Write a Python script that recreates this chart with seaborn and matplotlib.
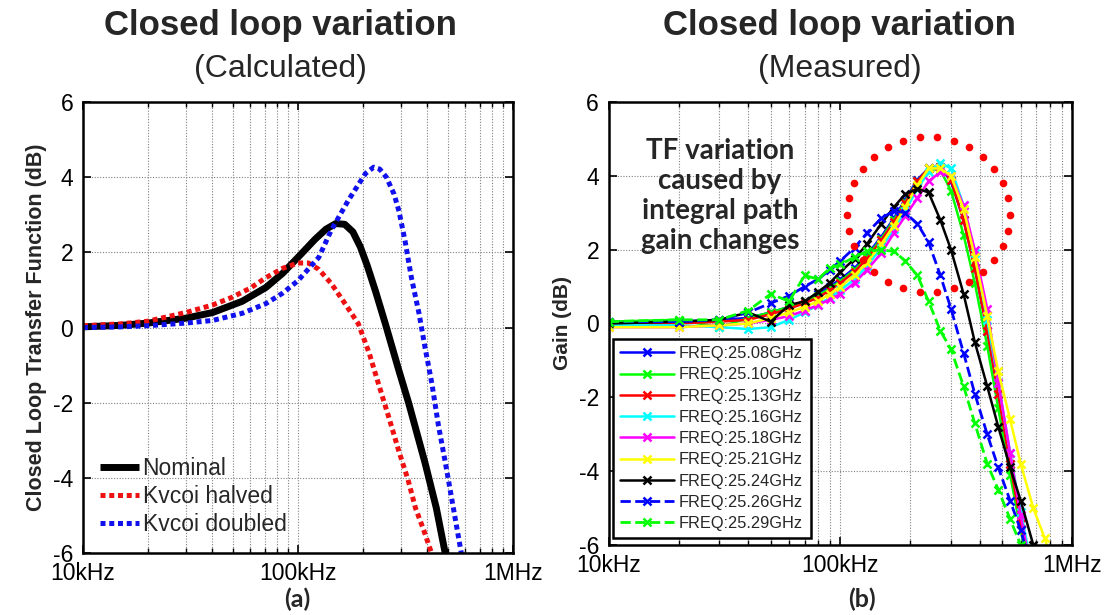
import matplotlib
matplotlib.use("Agg")
import matplotlib.pyplot as plt
from matplotlib import font_manager
from matplotlib.ticker import LogLocator, NullFormatter
import seaborn as sns
import numpy as np

# ---------------- data ----------------
# (a) calculated curves (kHz, dB)
nominal_khz = [10, 15, 20, 30, 40, 55, 71, 85, 100, 120, 135, 150, 165, 180, 195, 210, 230, 255, 295, 327, 390, 440, 484, 530]
nominal_db = [0.02, 0.06, 0.12, 0.25, 0.4, 0.7, 1.07, 1.45, 1.87, 2.35, 2.62, 2.77, 2.75, 2.55, 2.15, 1.65, 0.95, 0.1, -1.15, -2.0, -3.6, -4.8, -6.0, -7.2]

halved_khz = [10, 15, 20, 30, 40, 49, 60, 71, 85, 100, 112, 125, 143, 165, 191, 215, 237, 265, 295, 325, 352, 385, 418, 460]
halved_db = [0.05, 0.1, 0.17, 0.4, 0.6, 0.8, 1.05, 1.33, 1.58, 1.72, 1.72, 1.55, 1.17, 0.65, 0.1, -0.7, -1.5, -2.4, -3.3, -4.05, -4.8, -5.4, -6.0, -6.8]

doubled_khz = [10, 15, 20, 30, 40, 55, 71, 85, 100, 125, 143, 172, 206, 225, 240, 258, 280, 295, 315, 337, 365, 390, 420, 450, 485, 517, 575, 620]
doubled_db = [0.0, 0.02, 0.05, 0.12, 0.19, 0.38, 0.64, 0.92, 1.25, 1.87, 2.6, 3.4, 4.1, 4.27, 4.22, 4.0, 3.55, 3.1, 2.3, 1.33, 0.4, -0.53, -1.5, -2.6, -3.6, -4.5, -6.0, -7.0]

# (b) measured curves (kHz, dB)
meas_khz = [10, 20, 30, 40, 50, 60, 70, 80, 90, 100, 115, 130, 150, 170, 190, 215, 240, 270, 300, 340, 380, 430, 480, 540, 600, 680, 760, 850]
g2508 = [0.05, 0.05, 0.1, 0.15, 0.3, 0.45, 0.6, 0.8, 1.0, 1.2, 1.5, 1.85, 2.35, 2.85, 3.35, 3.9, 4.2, 4.25, 3.85, 2.8, 1.5, -0.2, -1.9, -3.8, -5.4, -7.2, -8.5, -9.8]
g2510 = [0.05, 0.1, -0.1, 0.15, 0.3, 0.45, 0.6, 0.75, 0.95, 1.15, 1.45, 1.8, 2.3, 2.8, 3.3, 3.85, 4.2, 4.15, 3.6, 2.4, 1.1, -0.6, -2.3, -4.1, -5.6, -7.3, -8.6, -9.9]
g2513 = [0.0, 0.0, 0.05, 0.1, 0.25, 0.4, 0.55, 0.7, 0.9, 1.1, 1.4, 1.75, 2.25, 2.75, 3.25, 3.85, 4.2, 4.25, 3.9, 2.8, 1.5, -0.2, -1.9, -3.8, -5.4, -7.1, -8.4, -9.7]
g2516 = [-0.05, -0.05, -0.1, -0.15, -0.1, 0.1, 0.3, 0.5, 0.7, 0.9, 1.2, 1.55, 2.05, 2.55, 3.05, 3.65, 4.1, 4.35, 4.2, 3.2, 1.9, 0.1, -1.6, -3.5, -5.1, -6.8, -8.2, -9.5]
g2518 = [-0.1, -0.1, -0.05, 0.0, 0.1, 0.2, 0.35, 0.5, 0.65, 0.8, 1.1, 1.45, 1.9, 2.45, 2.9, 3.4, 3.85, 4.1, 4.0, 3.2, 2.0, 0.4, -1.6, -3.5, -5.2, -7.0, -8.4, -9.7]
g2521 = [-0.1, -0.1, -0.05, 0.0, 0.15, 0.3, 0.45, 0.6, 0.8, 1.0, 1.3, 1.65, 2.15, 2.65, 3.15, 3.75, 4.2, 4.2, 4.0, 3.1, 1.8, 0.2, -1.3, -2.6, -3.8, -5.0, -5.8, -6.8]
g2524 = [0.0, 0.05, 0.1, 0.3, 0.05, 0.5, 0.6, 0.85, 1.1, 1.4, 1.75, 2.15, 2.7, 3.15, 3.5, 3.65, 3.55, 2.8, 2.0, 0.8, -0.5, -1.7, -2.8, -3.9, -4.8, -6.0, -7.0, -8.2]
g2526 = [0.05, 0.05, 0.1, 0.3, 0.55, 0.75, 1.0, 1.2, 1.45, 1.7, 2.05, 2.45, 2.85, 3.05, 3.0, 2.7, 2.2, 1.3, 0.4, -0.8, -1.9, -3.0, -3.9, -4.8, -5.6, -6.8, -7.9, -9.0]
g2529 = [0.05, 0.1, 0.1, 0.35, 0.8, 0.6, 1.3, 1.2, 1.5, 1.6, 1.8, 1.95, 2.0, 1.95, 1.7, 1.3, 0.6, -0.2, -0.7, -1.7, -2.7, -3.8, -4.5, -5.3, -6.0, -7.0, -8.0, -9.0]

meas_labels = ["FREQ:25.08GHz", "FREQ:25.10GHz", "FREQ:25.13GHz", "FREQ:25.16GHz",
               "FREQ:25.18GHz", "FREQ:25.21GHz", "FREQ:25.24GHz", "FREQ:25.26GHz",
               "FREQ:25.29GHz"]
calc_labels = ["Nominal", "Kvcoi halved", "Kvcoi doubled"]
xtick_vals = [1e4, 1e5, 1e6]
xtick_labels = ["10kHz", "100kHz", "1MHz"]
ytick_vals = [-6, -4, -2, 0, 2, 4, 6]

# ---------------- style ----------------
sns.set_theme(style="white")
names = {f.name for f in font_manager.fontManager.ttflist}
ARIAL = "Liberation Sans" if "Liberation Sans" in names else "DejaVu Sans"
NARROW = "Liberation Sans Narrow" if "Liberation Sans Narrow" in names else ARIAL
CALIBRI = "Lato" if "Lato" in names else ARIAL
plt.rcParams["font.family"] = [ARIAL, "DejaVu Sans"]

fig = plt.figure(figsize=(11.11, 6.15), dpi=100)
ax1 = fig.add_axes([0.0747, 0.1008, 0.387, 0.733])
ax2 = fig.add_axes([0.548, 0.1138, 0.417, 0.7204])

def hz(lst):
    return [v * 1e3 for v in lst]

# (a)
sns.lineplot(x=hz(nominal_khz), y=nominal_db, ax=ax1, color="black", lw=5.0,
             label=calc_labels[0], sort=False)
sns.lineplot(x=hz(halved_khz), y=halved_db, ax=ax1, color="#ee1111", lw=3.6,
             label=calc_labels[1], sort=False)
sns.lineplot(x=hz(doubled_khz), y=doubled_db, ax=ax1, color="#1111ee", lw=3.6,
             label=calc_labels[2], sort=False)
ax1.lines[1].set_linestyle((0, (1.0, 0.75)))
ax1.lines[2].set_linestyle((0, (1.0, 0.75)))
for ln in ax1.lines:
    ln.set_solid_capstyle("butt")
    ln.set_dash_capstyle("butt")
    ln.set_solid_joinstyle("round")

# (b)
series = [g2508, g2510, g2513, g2516, g2518, g2521, g2524, g2526, g2529]
colors = ["#0000ff", "#00ff00", "#ff0000", "#00ffff", "#ff00ff", "#ffff00", "#000000", "#0000ff", "#00ff00"]
styles = ["-", "-", "-", "-", "-", "-", "-", "--", "--"]
for vals, col, ls, lab in zip(series, colors, styles, meas_labels):
    sns.lineplot(x=hz(meas_khz), y=vals, ax=ax2, color=col, lw=1.8 if ls == "-" else 2.0,
                 marker="x", markersize=6, markeredgewidth=1.8, markeredgecolor=col,
                 label=lab, sort=False)
for ln, ls in zip(ax2.lines, styles):
    ln.set_linestyle(ls)

for ax in (ax1, ax2):
    ax.set_xscale("log")
    ax.set_xlim(1e4, 1e6)
    ax.set_ylim(-6, 6)
    ax.set_xticks(xtick_vals)
    ax.set_xticklabels(xtick_labels)
    ax.xaxis.set_minor_locator(LogLocator(base=10, subs=np.arange(2, 10), numticks=20))
    ax.xaxis.set_minor_formatter(NullFormatter())
    ax.set_yticks(ytick_vals)
    ax.set_yticklabels([str(v) for v in ytick_vals])
    ax.grid(True, which="major", axis="both", ls=(0, (1, 1.5)), color="#808080", lw=0.8)
    ax.grid(True, which="minor", axis="x", ls=(0, (1, 1.5)), color="#808080", lw=0.8)
    ax.tick_params(which="both", direction="in", top=True, right=True, bottom=True, left=True,
                   colors="black")
    ax.tick_params(which="major", length=6, width=1.2, labelsize=16.5, pad=7)
    ax.tick_params(axis="x", which="major", pad=6.5)
    ax.tick_params(which="minor", length=3.5, width=1.0)
    for lab in ax.get_xticklabels() + ax.get_yticklabels():
        lab.set_family([NARROW, ARIAL])
    for sp in ax.spines.values():
        sp.set_color("black")
        sp.set_linewidth(1.8)
    ax.set_axisbelow(True)

ax1.set_ylabel("Closed Loop Transfer Function (dB)", fontsize=15.5, fontweight="bold", labelpad=4)
ax2.set_ylabel("Gain (dB)", fontsize=15, fontweight="bold", labelpad=5)
ax1.set_xlabel("")
ax2.set_xlabel("")

leg1 = ax1.legend(loc="lower left", bbox_to_anchor=(0.0, 0.0), frameon=False, fontsize=16.5,
                  handlelength=1.7, handletextpad=0.15, labelspacing=0.22, borderaxespad=0.35)
leg2 = ax2.legend(loc="lower left", bbox_to_anchor=(0.008, 0.015), frameon=True, fancybox=False,
                  fontsize=11.8, handlelength=3.3, handletextpad=0.3, labelspacing=0.38,
                  borderpad=0.45, borderaxespad=0.0)
leg2.get_frame().set_edgecolor("black")
leg2.get_frame().set_linewidth(1.8)
leg2.get_frame().set_alpha(1)

# annotation text
ax2.text(0.24, 0.788, "TF variation\ncaused by\nintegral path\ngain changes", transform=ax2.transAxes,
         ha="center", va="center", fontsize=20, fontweight="bold", family=[CALIBRI, ARIAL],
         linespacing=1.18, zorder=5)
# dotted red circle highlighting the peaks (axes-fraction geometry)
theta = np.linspace(0, 2 * np.pi, 31)[:-1]
ax2.plot(0.69 + 0.176 * np.cos(theta), 0.746 + 0.175 * np.sin(theta), transform=ax2.transAxes,
         ls="none", marker="o", markersize=5.5, color="#ff0000", markeredgewidth=0, zorder=6,
         clip_on=False)

# titles
for xc, sub in ((0.252, "(Calculated)"), (0.756, "(Measured)")):
    fig.text(xc, 0.958, "Closed loop variation", ha="center", va="center", fontsize=25,
             fontweight="bold", family=[ARIAL, "DejaVu Sans"])
    fig.text(xc, 0.888, sub, ha="center", va="center", fontsize=23, family=[ARIAL, "DejaVu Sans"])

fig.text(0.268, 0.0135, "(a)", ha="center", va="baseline", fontsize=18, fontweight="bold",
         family=[CALIBRI, ARIAL])
fig.text(0.776, 0.0135, "(b)", ha="center", va="baseline", fontsize=18, fontweight="bold",
         family=[CALIBRI, ARIAL])

fig.savefig("out.png", dpi=100, facecolor="white")
